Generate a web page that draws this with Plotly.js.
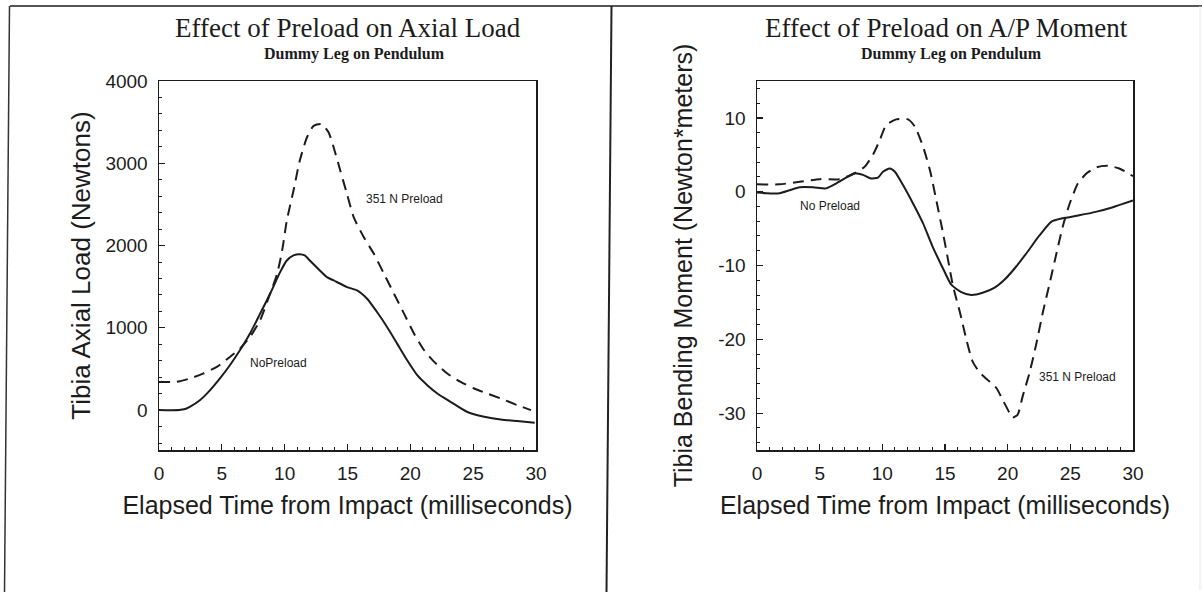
<!DOCTYPE html>
<html>
<head>
<meta charset="utf-8">
<script src="https://cdn.plot.ly/plotly-3.0.1.min.js"></script>
<style>html,body{margin:0;padding:0;background:#fff;}#chart{width:1202px;height:592px;}</style>
</head>
<body>
<div id="chart"></div>
<script>
// ---- Left panel: Tibia axial load (Newtons) ----
const axialNoPreloadT = [0,1,2,2.45,3.25,4.05,4.85,5.64,6.44,7.24,8.04,8.84,9.64,10.17,10.7,11.2,11.6,12.0,12.8,13.36,13.9,14.96,15.76,16.56,17.35,18.15,18.95,19.75,20.55,21.35,22.15,23.2,24.5,25.87,27.2,28.5,29.9];
const axialNoPreload  = [0,-3,10,40,120,240,385,545,727,930,1170,1414,1677,1818,1880,1895,1880,1818,1697,1616,1576,1495,1455,1354,1192,1010,808,606,424,303,202,101,-20,-81,-113,-133,-154];
const axialPreloadT = [0,1.4,2.45,3.5,4.6,5.64,6.44,7.24,8.04,8.84,9.4,9.8,10.17,10.7,11.2,11.77,12.3,12.96,13.5,13.9,14.43,14.96,15.5,16.3,17.1,17.9,18.7,19.5,20.3,21.1,21.9,22.94,24.0,25.07,26.1,27.2,28.5,29.6];
const axialPreload  = [343,343,384,444,525,646,747,889,1091,1414,1657,1939,2303,2667,3030,3313,3455,3475,3374,3192,2909,2626,2343,2101,1899,1657,1414,1172,929,727,586,444,343,263,202,141,61,0];

// ---- Right panel: Tibia bending moment (Newton*meters) ----
const momentNoPreloadT = [0,0.74,1.8,2.6,3.4,4.47,5.5,6.3,7.1,7.8,8.5,9.1,9.65,10.05,10.6,11.0,11.65,12.45,13.25,14.0,14.84,15.5,16.3,17.1,18.0,18.96,19.76,20.7,21.6,22.55,23.5,24.4,25.7,27.1,28.4,30];
const momentNoPreload  = [-0.1,-0.2,-0.2,0.2,0.6,0.6,0.45,1.1,1.9,2.5,2.25,1.8,1.9,2.7,3.15,2.7,0.9,-1.6,-4.3,-7.4,-10.4,-12.6,-13.6,-14.0,-13.7,-13.0,-11.9,-10.1,-8.1,-5.9,-4.05,-3.6,-3.2,-2.7,-2.1,-1.2];
const momentPreloadT = [0,1.8,3.4,5.0,6.6,7.8,8.6,9.25,9.8,10.3,11.1,12.05,12.6,13.25,13.8,14.3,14.84,15.24,15.64,16.2,16.7,17.2,17.77,18.4,19.1,19.6,20.16,20.4,20.8,21.2,21.75,22.3,22.8,23.35,23.9,24.4,24.95,25.6,26.3,27.1,28.0,28.9,30];
const momentPreload  = [1.0,1.0,1.35,1.7,1.7,2.5,3.4,5.0,7.0,9.0,9.8,9.8,8.8,6.1,2.9,-1.1,-5.6,-9.2,-12.8,-16.4,-20.0,-23.0,-24.5,-25.5,-26.6,-28.2,-30.0,-30.6,-30.2,-27.7,-24.5,-20.5,-16.4,-12.4,-8.3,-4.7,-1.6,1.1,2.5,3.3,3.5,3.15,2.1];

// ---- Ticks and text ----
const xTickVals = [0,5,10,15,20,25,30];
const xTickText = ["0","5","10","15","20","25","30"];
const axialTickVals = [0,1000,2000,3000,4000];
const axialTickText = ["0","1000","2000","3000","4000"];
const momentTickVals = [-30,-20,-10,0,10];
const momentTickText = ["-30","-20","-10","0","10"];

const titles = ["Effect of Preload on Axial Load", "Effect of Preload on A/P Moment"];
const subtitle = "Dummy Leg on Pendulum";
const xTitle = "Elapsed Time from Impact (milliseconds)";
const yTitles = ["Tibia Axial Load (Newtons)", "Tibia Bending Moment (Newton*meters)"];
const curveLabels = ["No Preload", "351 N Preload", "NoPreload"];

const W = 1202, H = 592;
const px = v => v / W;
const py = v => 1 - v / H;
const INK = "#1c1c1c";

const solid = {color: INK, width: 2, shape: "spline", smoothing: 0.6};
const dashed = {color: INK, width: 2, dash: "11px,7px", shape: "spline", smoothing: 0.6};

const data = [
  {x: axialNoPreloadT, y: axialNoPreload, type: "scatter", mode: "lines", line: solid, name: curveLabels[0], xaxis: "x", yaxis: "y"},
  {x: axialPreloadT, y: axialPreload, type: "scatter", mode: "lines", line: dashed, name: curveLabels[1], xaxis: "x", yaxis: "y"},
  {x: momentNoPreloadT, y: momentNoPreload, type: "scatter", mode: "lines", line: solid, name: curveLabels[0], xaxis: "x2", yaxis: "y2"},
  {x: momentPreloadT, y: momentPreload, type: "scatter", mode: "lines", line: dashed, name: curveLabels[1], xaxis: "x2", yaxis: "y2"}
];

const tickFont = {family: "Liberation Sans, Arial, sans-serif", size: 19, color: INK};
const titleFont = {family: "Liberation Sans, Arial, sans-serif", size: 25, color: INK};
const serif = "Liberation Serif, Times New Roman, serif";
const sans = "Liberation Sans, Arial, sans-serif";

function xAxis(domain, anchor) {
  return {
    domain: domain, anchor: anchor, range: [0, 30],
    tickmode: "array", tickvals: xTickVals, ticktext: xTickText,
    ticks: "inside", ticklen: 6, tickwidth: 1.2, tickcolor: INK,
    minor: {tickmode: "linear", tick0: 0, dtick: 1, ticks: "inside", ticklen: 3, tickwidth: 1, tickcolor: INK},
    ticklabelstandoff: 6,
    showline: true, mirror: true, linecolor: INK, linewidth: 1.5,
    showgrid: false, zeroline: false, tickfont: tickFont,
    title: {text: xTitle, font: titleFont, standoff: 13}
  };
}
function yAxis(domain, anchor, range, vals, text, minorStep, title, standoff, size) {
  return {
    domain: domain, anchor: anchor, range: range,
    tickmode: "array", tickvals: vals, ticktext: text,
    ticks: "inside", ticklen: 6, tickwidth: 1.2, tickcolor: INK,
    minor: {tickmode: "linear", tick0: 0, dtick: minorStep, ticks: "inside", ticklen: 3, tickwidth: 1, tickcolor: INK},
    ticklabelstandoff: 6,
    showline: true, mirror: true, linecolor: INK, linewidth: 1.5,
    showgrid: false, zeroline: false, tickfont: tickFont,
    title: {text: title, font: Object.assign({}, titleFont, {size: size}), standoff: standoff}
  };
}

const yDom = [1 - 450 / H, 1 - 81 / H];

function titleAnn(x, text) {
  return {xref: "paper", yref: "paper", x: px(x), y: py(44), xanchor: "center", yanchor: "bottom", showarrow: false,
          borderpad: 0, text: text, font: {family: serif, size: 27, color: INK}};
}
function subAnn(x) {
  return {xref: "paper", yref: "paper", x: px(x), y: py(44), xanchor: "center", yanchor: "top", showarrow: false,
          borderpad: 0, text: "<b>" + subtitle + "</b>", font: {family: serif, size: 16, color: INK}};
}
function curveAnn(xr, yr, x, y, text) {
  return {xref: xr, yref: yr, x: x, y: y, showarrow: false, text: text, font: {family: sans, size: 12, color: INK}};
}

const layout = {
  width: W, height: H,
  margin: {l: 0, r: 0, t: 0, b: 0},
  paper_bgcolor: "#ffffff", plot_bgcolor: "#ffffff",
  showlegend: false,
  xaxis: xAxis([px(159), px(536)], "y"),
  yaxis: yAxis(yDom, "x", [-485, 4000], axialTickVals, axialTickText, 200, yTitles[0], 7, 26),
  xaxis2: xAxis([px(757), px(1133)], "y2"),
  yaxis2: yAxis(yDom, "x2", [-35, 15], momentTickVals, momentTickText, 2, yTitles[1], 18, 25),
  annotations: [
    titleAnn(348, titles[0]),
    titleAnn(946, titles[1]),
    subAnn(354),
    subAnn(951),
    curveAnn("x", "y", 19.5, 2566, curveLabels[1]),
    curveAnn("x", "y", 9.5, 574, curveLabels[2]),
    curveAnn("x2", "y2", 5.8, -2.0, curveLabels[0]),
    curveAnn("x2", "y2", 25.6, -25.1, curveLabels[1])
  ],
  shapes: [
    {type: "line", xref: "paper", yref: "paper", x0: px(10), x1: 1, y0: py(6), y1: py(6), line: {color: "#555", width: 2}},
    {type: "line", xref: "paper", yref: "paper", x0: px(9.5), x1: px(4.5), y0: py(6), y1: 0, line: {color: "#333", width: 1.5}},
    {type: "line", xref: "paper", yref: "paper", x0: px(611.5), x1: px(606.5), y0: py(6), y1: 0, line: {color: "#222", width: 2}},
    {type: "line", xref: "paper", yref: "paper", x0: px(1200), x1: px(1200), y0: py(6), y1: py(590), line: {color: "#e6e6e6", width: 1}}
  ]
};

Plotly.newPlot("chart", data, layout, {displayModeBar: false, staticPlot: true});
</script>
</body>
</html>
